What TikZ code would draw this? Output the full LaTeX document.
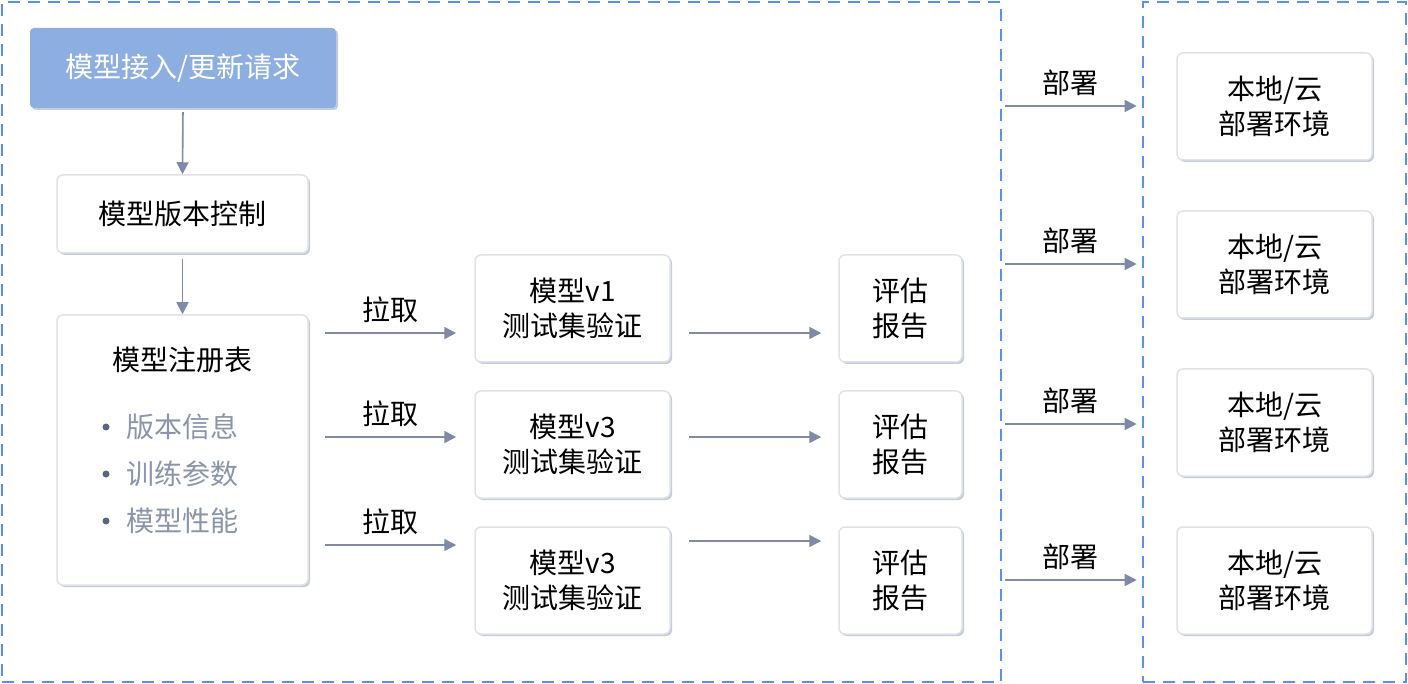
\documentclass[tikz,border=0pt]{standalone}
\usepackage{fontspec}
\setmainfont{Noto Sans CJK SC}
\usetikzlibrary{arrows.meta,shadows}
\definecolor{dashblue}{RGB}{91,143,240}
\definecolor{topfill}{RGB}{141,174,224}
\definecolor{arrcol}{RGB}{127,138,166}
\definecolor{boxline}{RGB}{224,226,232}
\definecolor{shadowcol}{RGB}{196,203,220}
\definecolor{itemcol}{RGB}{138,148,171}
\definecolor{dotcol}{RGB}{90,102,128}
\begin{document}
\begin{tikzpicture}[x=1pt,y=-1pt,
  every node/.style={font=\fontsize{28}{35}\selectfont, inner sep=0pt},
  container/.style={draw=dashblue, line width=2.6pt, dash pattern=on 12pt off 8pt, rectangle},
  card/.style={draw=boxline, line width=1.5pt, fill=white, rounded corners=6pt, align=center,
     drop shadow={shadow xshift=2pt, shadow yshift=-2pt, fill=shadowcol, opacity=1}},
  topcard/.style={fill=topfill, rounded corners=4pt, text=white, align=center,
     drop shadow={shadow xshift=2pt, shadow yshift=-2pt, fill=shadowcol, opacity=1}},
  arr/.style={draw=arrcol, line width=1.6pt, -{Triangle[length=12pt,width=12pt]}},
  lbl/.style={text=black},
  item/.style={text=itemcol, anchor=west},
  dot/.style={circle, fill=dotcol, minimum size=7pt}
]
\useasboundingbox (0,0) rectangle (1408,684);
\path[fill=white] (0,0) rectangle (1408,684);

% containers
\node[container, minimum width=999pt, minimum height=680pt] (c1) at (501.5,342) {};
\node[container, minimum width=263pt, minimum height=680pt] (c2) at (1274.5,342) {};

% left column
\node[topcard, minimum width=306pt, minimum height=80pt] (req) at (183,68) {模型接入/更新请求};
\node[card, minimum width=251pt, minimum height=78pt] (vc) at (182.5,214) {模型版本控制};
\node[card, minimum width=251pt, minimum height=270pt] (reg) at (182.5,450) {};
\node[lbl] (regt) at (182,360) {模型注册表};
\node[dot] (d1) at (106,427) {};
\node[dot] (d2) at (106,474) {};
\node[dot] (d3) at (106,521) {};
\node[item] (i1) at (126,427) {版本信息};
\node[item] (i2) at (126,474) {训练参数};
\node[item] (i3) at (126,521) {模型性能};

\draw[arr, shorten <=4pt] (req.south) -- (vc.north);
\draw[arr, shorten <=5pt] (vc.south) -- (reg.north);

% middle boxes
\node[card, minimum width=195pt, minimum height=107pt] (m1) at (572.5,308.5) {模型v1\\测试集验证};
\node[card, minimum width=195pt, minimum height=107pt] (m2) at (572.5,444.5) {模型v3\\测试集验证};
\node[card, minimum width=195pt, minimum height=107pt] (m3) at (572.5,580.5) {模型v3\\测试集验证};

\node[card, minimum width=123pt, minimum height=107pt] (r1) at (900.5,308.5) {评估\\报告};
\node[card, minimum width=123pt, minimum height=107pt] (r2) at (900.5,444.5) {评估\\报告};
\node[card, minimum width=123pt, minimum height=107pt] (r3) at (900.5,580.5) {评估\\报告};

\coordinate (a1) at (0,333);
\coordinate (a2) at (0,437);
\coordinate (a3) at (0,545);
\draw[arr] ([xshift=16pt]reg.east |- a1) -- ([xshift=-18pt]m1.west |- a1);
\draw[arr] ([xshift=16pt]reg.east |- a2) -- ([xshift=-18pt]m2.west |- a2);
\draw[arr] ([xshift=16pt]reg.east |- a3) -- ([xshift=-18pt]m3.west |- a3);
\node[lbl] (p1) at (390,310) {拉取};
\node[lbl] (p2) at (390,414) {拉取};
\node[lbl] (p3) at (390,522) {拉取};

\coordinate (b1) at (0,333);
\coordinate (b2) at (0,437);
\coordinate (b3) at (0,541);
\draw[arr] ([xshift=18pt]m1.east |- b1) -- ([xshift=-17pt]r1.west |- b1);
\draw[arr] ([xshift=18pt]m2.east |- b2) -- ([xshift=-17pt]r2.west |- b2);
\draw[arr] ([xshift=18pt]m3.east |- b3) -- ([xshift=-17pt]r3.west |- b3);

% right column
\node[card, minimum width=195pt, minimum height=107pt] (e1) at (1274.5,106.5) {本地/云\\部署环境};
\node[card, minimum width=195pt, minimum height=107pt] (e2) at (1274.5,264.5) {本地/云\\部署环境};
\node[card, minimum width=195pt, minimum height=107pt] (e3) at (1274.5,422.5) {本地/云\\部署环境};
\node[card, minimum width=195pt, minimum height=107pt] (e4) at (1274.5,580.5) {本地/云\\部署环境};

\coordinate (g1) at (0,106);
\coordinate (g2) at (0,264);
\coordinate (g3) at (0,424);
\coordinate (g4) at (0,580);
\draw[arr] ([xshift=3pt]c1.east |- g1) -- ([xshift=-5pt]c2.west |- g1);
\draw[arr] ([xshift=3pt]c1.east |- g2) -- ([xshift=-5pt]c2.west |- g2);
\draw[arr] ([xshift=3pt]c1.east |- g3) -- ([xshift=-5pt]c2.west |- g3);
\draw[arr] ([xshift=3pt]c1.east |- g4) -- ([xshift=-5pt]c2.west |- g4);
\node[lbl] (s1) at (1070,83) {部署};
\node[lbl] (s2) at (1070,241) {部署};
\node[lbl] (s3) at (1070,401) {部署};
\node[lbl] (s4) at (1070,557) {部署};
\end{tikzpicture}
\end{document}
